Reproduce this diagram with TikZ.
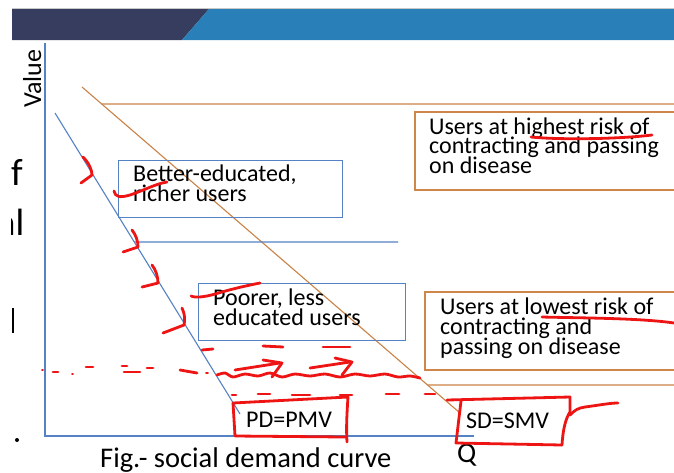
\documentclass[tikz,border=0pt]{standalone}
\usepackage{fontspec}
\setmainfont{Carlito}
\usetikzlibrary{calc}
\definecolor{navy}{RGB}{54,61,94}
\definecolor{bandblue}{RGB}{41,128,185}
\definecolor{axisblue}{RGB}{84,130,196}
\definecolor{curveorange}{RGB}{202,130,70}
\definecolor{boxorange}{RGB}{206,134,74}
\definecolor{pen}{RGB}{238,20,20}
\definecolor{rule}{RGB}{200,200,200}

\begin{document}
\begin{tikzpicture}[x=1pt,y=-1pt,
  bluebox/.style={draw=axisblue, line width=1.4pt, inner sep=0pt, anchor=north west},
  orangebox/.style={draw=boxorange, line width=1.6pt, inner sep=0pt, anchor=north west},
  boxtext/.style={anchor=base west, inner sep=0pt, font=\fontsize{24}{24}\selectfont},
  bigtext/.style={anchor=base west, inner sep=0pt, font=\fontsize{28.5}{28}\selectfont},
  edgetext/.style={anchor=base west, inner sep=0pt, font=\fontsize{38}{38}\selectfont},
  axis/.style={draw=axisblue, line width=1.5pt},
  pdline/.style={draw=axisblue, line width=1.1pt},
  sdline/.style={draw=curveorange, line width=1.1pt},
  ink/.style={draw=pen, line width=2.8pt, line cap=round, line join=round},
]
\useasboundingbox (0,0) rectangle (674,472);
\fill[white] (0,0) rectangle (674,472);

% title band
\fill[navy] (12,9) -- (209,9) -- (182,40) -- (12,40) -- cycle;
\fill[bandblue] (209,9) -- (674,9) -- (674,40) -- (182,40) -- cycle;
\draw[rule, line width=0.8pt] (12,8.4) -- (674,8.4);

% clipped text from the neighbouring slide edge
\node[edgetext] (edgef) at (11,185) {f};
\begin{scope}
  \clip (11,150) rectangle (30,260);
  \node[edgetext, anchor=base east] (edgeal) at (24.5,235) {al};
\end{scope}
\fill[black] (11.5,308) rectangle (14,333);
\fill[black] (17,440) circle (2);

% axes
\coordinate (origin) at (45,436);
\coordinate (ytop) at (45,43);
\coordinate (xend) at (474,436);
\draw[axis] (ytop) -- (origin) -- (xend);
\node[anchor=base west, inner sep=0pt, rotate=90, font=\fontsize{26}{26}\selectfont] (value) at (41,108) {Value};
\node[bigtext] (qlabel) at (457,462) {Q};
\node[bigtext] (caption) at (100,467) {Fig.- social demand curve};

% demand curves
\coordinate (pdtop) at (55,113);
\coordinate (pdbot) at (240,414);
\coordinate (sdtop) at (82,87);
\coordinate (sdbot) at (460,413);
\draw[pdline] (pdtop) -- (pdbot);
\draw[sdline] (sdtop) -- (sdbot);

% horizontal segment lines
\coordinate (pdmid) at ($(pdtop)!0.4286!(pdbot)$);
\coordinate (sdhigh) at ($(sdtop)!0.0521!(sdbot)$);
\coordinate (sdlow) at ($(sdtop)!0.9141!(sdbot)$);
\draw[pdline] (pdmid) -- (398,242);
\draw[sdline, line width=1.4pt] (sdhigh) -- (674,104);
\draw[sdline, line width=1.4pt] (sdlow) -- (674,385);

% user group boxes
\node[bluebox, minimum width=224pt, minimum height=57pt] (richbox) at (118,160) {};
\node[boxtext] (rich1) at (133,181.5) {Better-educated,};
\node[boxtext] (rich2) at (133,201.5) {richer users};

\node[bluebox, minimum width=207pt, minimum height=57pt] (poorbox) at (198,283) {};
\node[boxtext] (poor1) at (213,305) {Poorer, less};
\node[boxtext] (poor2) at (213,325) {educated users};

\node[orangebox, minimum width=270pt, minimum height=78pt] (highbox) at (414,111) {};
\node[boxtext] (high1) at (429,134) {Users at highest risk of};
\node[boxtext] (high2) at (429,153.5) {contracting and passing};
\node[boxtext] (high3) at (429,173) {on disease};

\node[orangebox, minimum width=260pt, minimum height=78pt] (lowbox) at (424,291) {};
\node[boxtext] (low1) at (440,314) {Users at lowest risk of};
\node[boxtext] (low2) at (440,334) {contracting and};
\node[boxtext] (low3) at (440,354) {passing on disease};

\node[boxtext] (pdlabel) at (246,427) {PD=PMV};
\node[boxtext] (sdlabel) at (466,428) {SD=SMV};

% pen annotations: ticks along the private demand curve
\draw[ink] (83,157) .. controls (89,163) and (92,170) .. (92,175) -- (81,183);
\draw[ink] (114,191) .. controls (115,197) and (120,198) .. (130,195) .. controls (145,190) and (155,184) .. (167,182);
\draw[ink] (132,230) .. controls (136,235) and (138,241) .. (138,247) -- (123,252);
\draw[ink] (152,265) .. controls (156,270) and (158,277) .. (158,283) -- (142,287);
\draw[ink] (191,296) .. controls (195,298) and (205,297) .. (215,294) .. controls (235,288) and (250,285) .. (260,283);
\draw[ink] (182,308) .. controls (185,314) and (185,320) .. (184,325) -- (163,333);

% underlines
\draw[ink] (531,137) .. controls (560,140) and (620,139) .. (652,135);
\draw[ink] (542,317) .. controls (580,318) and (640,318) .. (674,323);

% dashed guide lines
\draw[ink] (202,350) -- (213,349);
\draw[ink] (263,346) -- (283,347);
\draw[ink] (323,347) -- (350,347);

\draw[ink, line width=1.8pt] (42,370) -- (43,370);
\draw[ink] (53,372) -- (58,372);
\draw[ink, line width=1.8pt] (72,374) -- (73,374);
\draw[ink] (86,367) -- (93,367);
\draw[ink] (122,366) -- (127,366);
\draw[ink] (124,372) -- (140,372);
\draw[ink] (147,368) -- (153,368);
\draw[ink] (180,370) -- (197,373);
\draw[ink, line width=1.8pt] (206,373) -- (208,373);
\draw[ink] plot[smooth] coordinates {(217,375) (225,373) (233,377) (245,374) (258,376) (270,373) (282,377) (295,374) (310,376) (325,374) (340,377) (355,374) (370,376) (385,374) (398,377) (410,376) (420,378)};

% arrows pointing right
\draw[ink] (235,370) -- (280,363);
\draw[ink] (263,360) -- (282,363) -- (272,377);
\draw[ink] (310,368) -- (350,362);
\draw[ink] (335,358) -- (352,362) -- (342,375);

\draw[ink] (232,395) -- (236,395);
\draw[ink] (258,394) -- (270,394);
\draw[ink] (292,395) -- (310,395);
\draw[ink] (340,395) -- (352,395);
\draw[ink] (386,394) -- (399,394);
\draw[ink] (425,394) -- (435,394);

% hand-drawn frames round the curve labels
\draw[ink] (233,403) -- (348,397) .. controls (347,412) and (346,428) .. (347,442);
\draw[ink] (233,403) -- (235,436) -- (346,437);
\draw[ink] (447,400) -- (570,397) -- (570,412) .. controls (566,418) and (563,428) .. (562,445);
\draw[ink] (461,401) -- (456,443) -- (562,445);
\draw[ink] (570,415) .. controls (575,410) and (578,408) .. (585,407) .. controls (600,405) and (610,403) .. (618,403);
\end{tikzpicture}
\end{document}
